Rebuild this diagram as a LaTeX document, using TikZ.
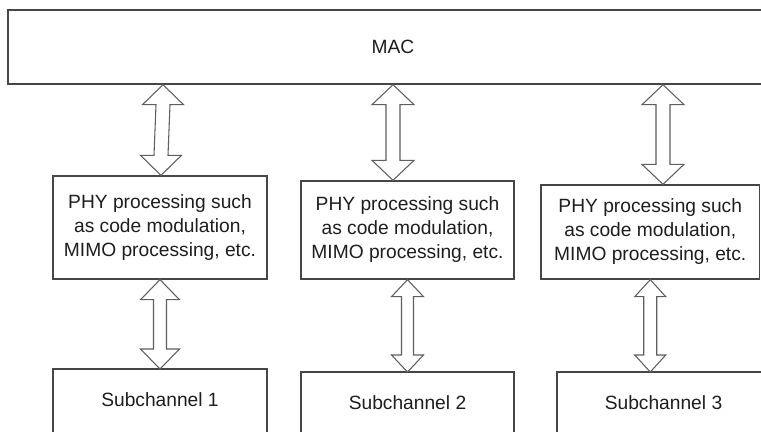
\documentclass[tikz,border=0pt]{standalone}
\usepackage{fontspec}
\setmainfont{Liberation Sans}
\usetikzlibrary{calc}
\newdimen\pxu \pxu=0.75pt
\definecolor{boxline}{RGB}{70,70,70}
\definecolor{arrline}{RGB}{95,95,95}
\definecolor{txtcol}{RGB}{30,30,30}
\tikzset{
  box/.style={draw=boxline, line width=1pt, rectangle, inner sep=0pt, align=center, text=txtcol,
    font=\fontsize{14.4}{18}\selectfont},
  txt/.style={inner sep=0pt, align=center, text=txtcol, font=\fontsize{14.4}{18}\selectfont},
  frame/.style={draw=boxline, line width=1pt},
  arr/.style={draw=arrline, line width=0.8pt, fill=white, line join=miter}
}
\newcommand\hollowdbl[5]{%
  \draw[arr] let \p1=(#1), \p2=(#2) in
   (\x1,\y1) -- (\x1+#3\pxu,\y1-#5\pxu) -- (\x1+#4\pxu,\y1-#5\pxu)
   -- (\x2+#4\pxu,\y2+#5\pxu) -- (\x2+#3\pxu,\y2+#5\pxu) -- (\x2,\y2)
   -- (\x2-#3\pxu,\y2+#5\pxu) -- (\x2-#4\pxu,\y2+#5\pxu)
   -- (\x1-#4\pxu,\y1-#5\pxu) -- (\x1-#3\pxu,\y1-#5\pxu) -- cycle;}
\begin{document}
\begin{tikzpicture}[x=0.75pt, y=-0.75pt]
\useasboundingbox (0,0) rectangle (761,432);
\clip (0,0) rectangle (761,432);
\fill[white] (0,0) rectangle (761,432);

% MAC
\node[box, minimum width=770\pxu, minimum height=74\pxu] (mac) at (393,47) {MAC};

% PHY boxes
\node[box, minimum width=214\pxu, minimum height=103\pxu] (phy1) at (160,227.5)
  {PHY processing such\\as code modulation,\\MIMO processing, etc.};
\node[box, minimum width=213\pxu, minimum height=98\pxu] (phy2) at (407.5,230)
  {PHY processing such\\as code modulation,\\MIMO processing, etc.};
\node[box, minimum width=218.5\pxu, minimum height=94\pxu] (phy3) at (650.25,232)
  {PHY processing such\\as code modulation,\\MIMO processing, etc.};

% Subchannels (frames run off the bottom edge)
\draw[frame] (53,440) |- (267,369) -- (267,440);
\draw[frame] (301,440) |- (514,372) -- (514,440);
\draw[frame] (557,440) |- (790,372);
\coordinate (s1top) at (160,369);
\coordinate (s2top) at (407.5,372);
\coordinate (s3top) at (650.25,372);
\node[txt] (sub1) at (160,400) {Subchannel 1};
\node[txt] (sub2) at (407.5,402.5) {Subchannel 2};
\node[txt] (sub3) at (663.5,402.5) {Subchannel 3};

% Double arrows MAC <-> PHY
\hollowdbl{[xshift=-230\pxu]mac.south}{[xshift=1\pxu]phy1.north}{20.5}{7}{20}
\hollowdbl{mac.south}{[xshift=-14.5\pxu]phy2.north}{21}{7}{20}
\hollowdbl{[xshift=270\pxu]mac.south}{[xshift=12.75\pxu]phy3.north}{21}{7}{20}

% Double arrows PHY <-> Subchannel
\hollowdbl{phy1.south}{s1top}{19.5}{6.5}{20}
\hollowdbl{phy2.south}{s2top}{16}{6}{17}
\hollowdbl{phy3.south}{s3top}{15.5}{6.5}{17}
\end{tikzpicture}
\end{document}
